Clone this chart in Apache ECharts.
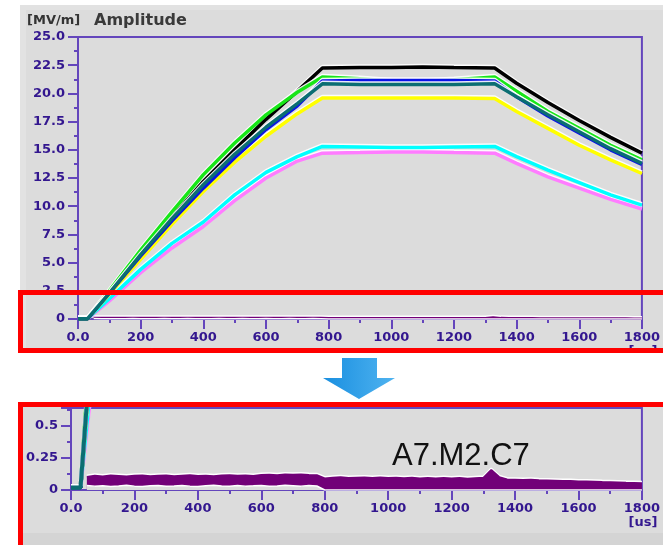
<!DOCTYPE html>
<html lang="en">
<head>
<meta charset="UTF-8">
<title>Amplitude - A7.M2.C7</title>
<script src="https://cdn.jsdelivr.net/npm/echarts/dist/echarts.min.js"></script>
<style>
    html, body { margin: 0; padding: 0; background: #ffffff; }
    #chart { width: 663px; height: 545px; }
</style>
</head>
<body>
<div id="chart"></div>
<script>
// time axis shared by the cavity traces [us]
const timeUs  = [0, 30, 100, 200, 300, 400, 500, 600, 700, 780, 900, 1000, 1100, 1200, 1330, 1400, 1500, 1600, 1700, 1800];
// amplitude traces [MV/m]
const black   = [0.02, 0.02, 2.4, 5.8, 9.0, 12.2, 15.0, 17.7, 20.2, 22.25, 22.3, 22.3, 22.35, 22.3, 22.25, 20.9, 19.2, 17.6, 16.1, 14.7];
const green   = [0.02, 0.02, 2.5, 6.1, 9.5, 12.8, 15.6, 18.1, 20.1, 21.45, 21.3, 21.1, 21.05, 21.2, 21.45, 20.2, 18.4, 16.9, 15.4, 14.1];
const blue    = [0.02, 0.02, 2.3, 5.6, 8.7, 11.6, 14.3, 16.8, 18.9, 21.1, 21.15, 21.15, 21.15, 21.15, 21.1, 19.7, 18.0, 16.5, 15.0, 13.7];
const teal    = [0.02, 0.02, 2.3, 5.7, 8.9, 11.9, 14.6, 17.0, 19.1, 20.85, 20.8, 20.8, 20.8, 20.8, 20.85, 19.7, 18.1, 16.6, 15.1, 13.8];
const yellow  = [0.02, 0.02, 2.2, 5.3, 8.4, 11.3, 13.9, 16.2, 18.2, 19.6, 19.6, 19.6, 19.6, 19.6, 19.55, 18.4, 16.9, 15.4, 14.1, 12.9];
const cyan    = [0.02, 0.02, 1.8, 4.4, 6.7, 8.6, 11.0, 13.0, 14.4, 15.3, 15.25, 15.2, 15.2, 15.25, 15.3, 14.4, 13.2, 12.1, 11.0, 10.1];
const magenta = [0.02, 0.02, 1.6, 4.1, 6.3, 8.2, 10.5, 12.5, 14.0, 14.7, 14.75, 14.8, 14.8, 14.75, 14.7, 13.8, 12.6, 11.6, 10.6, 9.75];

// noise band of channel A7.M2.C7 (every 25 us from 50 to 1800)
const bandT = [50, 75, 100, 125, 150, 175, 200, 225, 250, 275, 300, 325, 350, 375, 400, 425, 450, 475, 500, 525,
    550, 575, 600, 625, 650, 675, 700, 725, 750, 775, 800, 825, 850, 875, 900, 925, 950, 975, 1000, 1025,
    1050, 1075, 1100, 1125, 1150, 1175, 1200, 1225, 1250, 1275, 1300, 1325, 1350, 1375, 1400, 1425, 1450, 1475, 1500, 1525,
    1550, 1575, 1600, 1625, 1650, 1675, 1700, 1725, 1750, 1775, 1800];
const bandHi = [0.10, 0.11, 0.105, 0.112, 0.108, 0.104, 0.11, 0.113, 0.107, 0.11, 0.112, 0.106, 0.11, 0.114, 0.109, 0.111, 0.107, 0.112, 0.115, 0.11,
    0.113, 0.109, 0.116, 0.118, 0.114, 0.12, 0.118, 0.121, 0.117, 0.115, 0.09, 0.094, 0.098, 0.092, 0.095, 0.097, 0.093, 0.096, 0.092, 0.095,
    0.091, 0.094, 0.09, 0.093, 0.089, 0.092, 0.09, 0.093, 0.088, 0.091, 0.094, 0.155, 0.10, 0.082, 0.08, 0.078, 0.079, 0.075, 0.074, 0.072,
    0.07, 0.069, 0.066, 0.065, 0.063, 0.061, 0.06, 0.058, 0.056, 0.055, 0.052];
const bandLo = [0.035, 0.03, 0.033, 0.028, 0.031, 0.036, 0.03, 0.027, 0.032, 0.034, 0.029, 0.031, 0.035, 0.03, 0.028, 0.033, 0.036, 0.031, 0.029, 0.034,
    0.03, 0.032, 0.035, 0.029, 0.031, 0.036, 0.033, 0.03, 0.034, 0.031, 0, 0, 0, 0, 0, 0, 0, 0, 0, 0,
    0, 0, 0, 0, 0, 0, 0, 0, 0, 0, 0, 0, 0, 0, 0, 0, 0, 0, 0, 0,
    0, 0, 0, 0, 0, 0, 0, 0, 0, 0, 0];

const xTicks = { min: 0, max: 1800, interval: 200 };

const axisColor = '#6446bc';
const labelColor = '#33178f';
const panelGray = '#dcdcdc';

// drawing order: later ones on top
const traces = [
    { data: magenta, color: '#ff7cff' },
    { data: cyan,    color: '#00ffff' },
    { data: yellow,  color: '#ffff00' },
    { data: black,   color: '#000000' },
    { data: green,   color: '#18e618' },
    { data: blue,    color: '#0a14e6' },
    { data: teal,    color: '#0b6e72' }
];

function pairs(xs, ys) {
    return xs.map((x, i) => [x, ys[i]]);
}

function seriesFor(idx, width) {
    const list = [
        {
            type: 'line', xAxisIndex: idx, yAxisIndex: idx, symbol: 'none', silent: true,
            data: pairs(bandT, bandHi),
            lineStyle: { color: '#720078', width: 2, shadowColor: '#ffffff', shadowBlur: 0, shadowOffsetY: -1.5 },
            areaStyle: { color: '#720078', opacity: 1 }
        },
        {
            type: 'line', xAxisIndex: idx, yAxisIndex: idx, symbol: 'none', silent: true,
            data: pairs(bandT, bandLo),
            lineStyle: { color: '#ffffff', width: 1.5 },
            areaStyle: { color: panelGray, opacity: 1 }
        }
    ];
    traces.forEach(tr => {
        list.push({
            type: 'line', xAxisIndex: idx, yAxisIndex: idx, symbol: 'none', silent: true,
            data: pairs(timeUs, tr.data),
            lineStyle: { color: tr.color, width: width, shadowColor: 'rgba(255,255,255,0.9)', shadowBlur: 0, shadowOffsetY: -1.5 }
        });
    });
    return list;
}

function xAxisCfg(idx) {
    return {
        type: 'value', gridIndex: idx,
        min: xTicks.min, max: xTicks.max, interval: xTicks.interval,
        axisLine: { lineStyle: { color: axisColor, width: 2 } },
        axisTick: { length: 10, lineStyle: { color: axisColor, width: 2 } },
        minorTick: { show: true, splitNumber: 2, length: 4, lineStyle: { color: axisColor, width: 2 } },
        splitLine: { show: false },
        axisLabel: {
            color: labelColor, fontFamily: 'DejaVu Sans', fontWeight: 'bold', fontSize: 13, margin: 12,
            formatter: v => v === 0 ? '0.0' : String(v)
        }
    };
}

function yAxisCfg(idx, max, interval, fmt) {
    return {
        type: 'value', gridIndex: idx, min: 0, max: max, interval: interval,
        axisLine: { show: true, lineStyle: { color: axisColor, width: 2 } },
        axisTick: { show: true, length: 10, lineStyle: { color: axisColor, width: 2 } },
        minorTick: { show: true, splitNumber: 2, length: 4, lineStyle: { color: axisColor, width: 2 } },
        splitLine: { show: false },
        axisLabel: {
            color: labelColor, fontFamily: 'DejaVu Sans', fontWeight: 'bold', fontSize: 13, margin: 13,
            showMaxLabel: idx === 0, formatter: fmt
        }
    };
}

const chart = echarts.init(document.getElementById('chart'));

const option = {
    backgroundColor: '#ffffff',
    animation: false,
    grid: [
        { left: 78, top: 37, right: 20, height: 282, show: true, borderColor: axisColor, borderWidth: 2 },
        { left: 71, top: 408, right: 20, height: 82, show: true, borderColor: axisColor, borderWidth: 2 }
    ],
    xAxis: [xAxisCfg(0), xAxisCfg(1)],
    yAxis: [
        yAxisCfg(0, 25, 2.5, v => v === 0 ? '0' : v.toFixed(1)),
        yAxisCfg(1, 0.635, 0.25, v => String(v))
    ],
    series: seriesFor(0, 3.5).concat(seriesFor(1, 4)),
    graphic: [
        // panels
        { type: 'rect', z: -10, shape: { x: 20, y: 5, width: 643, height: 348 }, style: { fill: '#e2e2e2' } },
        { type: 'rect', z: -9, shape: { x: 26, y: 10, width: 637, height: 343 }, style: { fill: panelGray } },
        { type: 'rect', z: -10, shape: { x: 20, y: 405, width: 643, height: 140 }, style: { fill: panelGray } },
        { type: 'rect', z: -9, shape: { x: 20, y: 533, width: 643, height: 12 }, style: { fill: '#d4d4d4' } },
        // titles and units
        { type: 'text', z: 20, style: { x: 27, y: 21, text: '[MV/m]', font: 'bold 13px "DejaVu Sans"', fill: '#333333', verticalAlign: 'middle' } },
        { type: 'text', z: 20, style: { x: 94, y: 21, text: 'Amplitude', font: 'bold 16px "DejaVu Sans"', fill: '#3a3a3a', verticalAlign: 'middle' } },
        { type: 'text', z: 20, style: { x: 643, y: 352, text: '[us]', font: 'bold 13px "DejaVu Sans"', fill: labelColor, align: 'center', verticalAlign: 'middle' } },
        { type: 'text', z: 20, style: { x: 643, y: 523, text: '[us]', font: 'bold 13px "DejaVu Sans"', fill: labelColor, align: 'center', verticalAlign: 'middle' } },
        { type: 'text', z: 20, style: { x: 392, y: 456, text: 'A7.M2.C7', font: '31px "Liberation Sans"', fill: '#111111', verticalAlign: 'middle' } },
        // white gap between the two panels
        { type: 'rect', z: 50, shape: { x: 0, y: 353, width: 663, height: 50 }, style: { fill: '#ffffff' } },
        // red highlight boxes
        { type: 'rect', z: 60, shape: { x: 20.5, y: 292.5, width: 680, height: 58 }, style: { fill: 'none', stroke: '#ff0000', lineWidth: 5 } },
        { type: 'rect', z: 60, shape: { x: 20.5, y: 404.5, width: 680, height: 180 }, style: { fill: 'none', stroke: '#ff0000', lineWidth: 5 } },
        // arrow
        {
            type: 'polygon', z: 70,
            shape: { points: [[342, 358], [377, 358], [377, 378], [395, 378], [359, 399], [323, 378], [342, 378]] },
            style: {
                fill: new echarts.graphic.LinearGradient(0, 0, 1, 0, [
                    { offset: 0, color: '#1a8fe0' },
                    { offset: 1, color: '#4fb3f0' }
                ])
            }
        }
    ]
};

chart.setOption(option);
</script>
</body>
</html>
